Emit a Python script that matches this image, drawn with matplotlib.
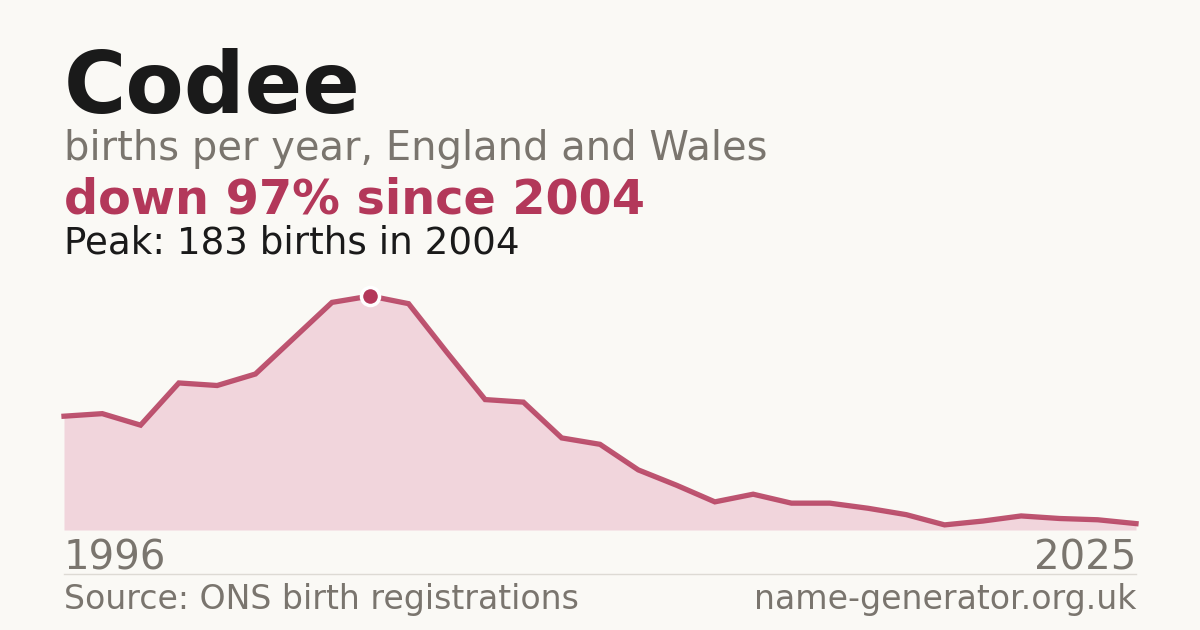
import numpy as np
import matplotlib
matplotlib.use('Agg')
import matplotlib.pyplot as plt

# births per year
births = [89, 91, 82, 115, 113, 122, 150, 178, 183, 177, 139, 102, 100, 72, 67,
          47, 35, 22, 28, 21, 21, 17, 12, 4, 7, 11, 9, 8, 5]
first_year = '1996'
last_year = '2025'
peak_year = '2004'

title = 'Codee'
subtitle = 'births per year, England and Wales'
headline = 'down 97% since 2004'
peak_note = 'Peak: 183 births in 2004'
source = 'Source: ONS birth registrations'
site = 'name-generator.org.uk'

BG = '#faf9f5'
RED = '#b3385a'
FILL = '#f1d5dc'
GREY = '#7a756e'
DARK = '#1a1a1a'

W, H = 1200, 630


def fy(px):
    return 1 - px / H


def main():
    fig = plt.figure(figsize=(12, 6.3), dpi=100, facecolor=BG)

    fig.text(64 / W, fy(113), title, fontsize=61.2, fontweight='bold', color=DARK, va='baseline')
    fig.text(64 / W, fy(160), subtitle, fontsize=28.8, color=GREY, va='baseline')
    fig.text(64 / W, fy(213), headline, fontsize=34.4, fontweight='bold', color=RED, va='baseline')
    fig.text(64 / W, fy(253), peak_note, fontsize=26.8, color=DARK, va='baseline')

    ax = fig.add_axes([64 / W, fy(530), (1136 - 64) / W, (530 - 296) / H])
    ax.set_facecolor(BG)
    x = np.arange(len(births))
    y = np.array(births)
    ax.fill_between(x, 0, y, color=FILL, lw=0)
    ax.plot(x, y, color=RED, lw=3.8, alpha=0.85, solid_joinstyle='miter', clip_on=False)
    ipk = int(np.argmax(y))
    ax.plot([x[ipk]], [y[ipk]], 'o', ms=13, mfc=RED, mec='white', mew=2.5, clip_on=False, zorder=5)
    ax.set_xlim(0, len(births) - 1)
    ax.set_ylim(0, max(births))
    ax.axis('off')

    fig.text(64 / W, fy(570), first_year, fontsize=29, color=GREY, va='baseline')
    fig.text(1136 / W, fy(570), last_year, fontsize=29, color=GREY, va='baseline', ha='right')

    fig.add_artist(plt.Line2D([64 / W, 1136 / W], [fy(574), fy(574)], color='#dddad4', lw=1))

    fig.text(64 / W, fy(609), source, fontsize=23.9, color=GREY, va='baseline')
    fig.text(1136 / W, fy(609), site, fontsize=23.9, color=GREY, va='baseline', ha='right')

    fig.savefig('out.png', dpi=100, facecolor=BG)


if __name__ == '__main__':
    main()
